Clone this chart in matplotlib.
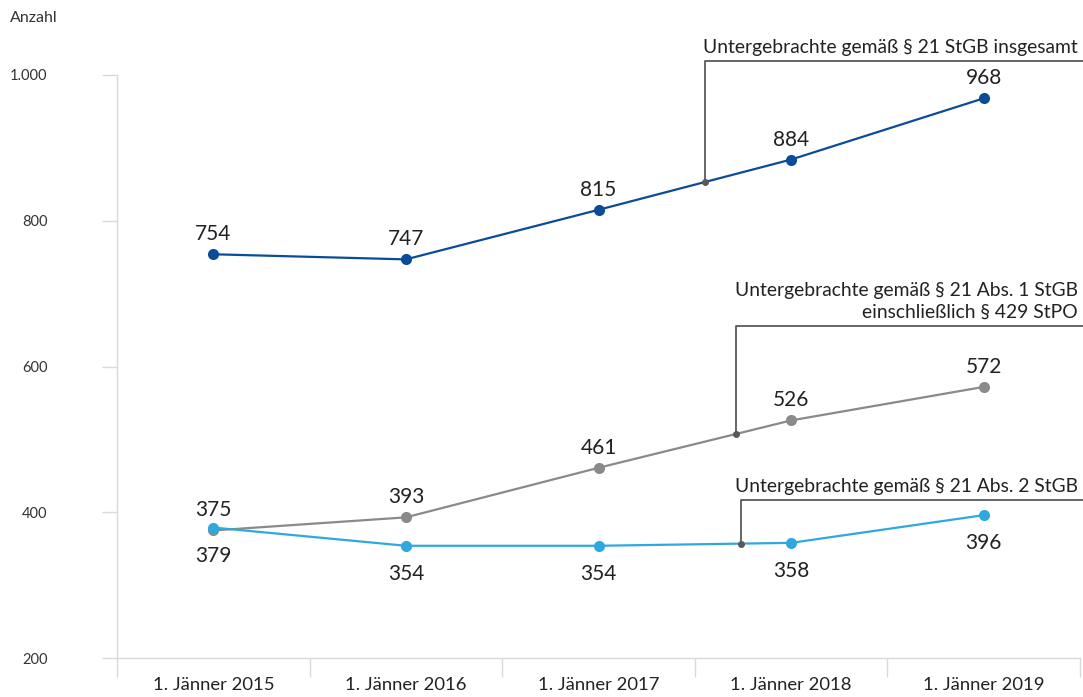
import matplotlib
matplotlib.use("Agg")
import matplotlib.pyplot as plt
import numpy as np

plt.rcParams['font.family'] = ['Lato', 'DejaVu Sans']

# Stichtage und Anzahl Untergebrachte
stichtage = ['1. Jänner 2015', '1. Jänner 2016', '1. Jänner 2017',
             '1. Jänner 2018', '1. Jänner 2019']
insgesamt = [754, 747, 815, 884, 968]
abs1 = [375, 393, 461, 526, 572]
abs2 = [379, 354, 354, 358, 396]

y_ticks = [200, 400, 600, 800, 1000]
y_ticklabels = ['200', '400', '600', '800', '1.000']

c_total = '#0B4C98'
c_abs1 = '#8A8A8A'
c_abs2 = '#2FA8E0'
c_leader = '#595959'
c_axis = '#D9D9D9'

fig = plt.figure(figsize=(10.83, 6.97), dpi=100)
ax = fig.add_axes([117 / 1083, 39 / 697, 963 / 1083, 583 / 697])

x = np.arange(len(stichtage))

# Werte über bzw. unter den Punkten (Versatz in Pixel)
series = [
    (insgesamt, c_total, 20),
    (abs1, c_abs1, 20),
    (abs2, c_abs2, -28),
]
for values, color, dy in series:
    ax.plot(x, values, color=color, lw=1.6, marker='o', ms=8,
            markeredgewidth=0, zorder=3)
    for xi, v in zip(x, values):
        ax.annotate(str(v), xy=(xi, v), xytext=(0, dy),
                    textcoords='offset pixels',
                    ha='center', va='center', fontsize=15, color='#222222')

# Legendenbeschriftungen mit Führungslinien
legends = [
    (insgesamt, 2.553, 1019, 'Untergebrachte gemäß § 21 StGB insgesamt'),
    (abs1, 2.714, 656, 'Untergebrachte gemäß § 21 Abs. 1 StGB\neinschließlich § 429 StPO'),
    (abs2, 2.740, 417, 'Untergebrachte gemäß § 21 Abs. 2 StGB'),
]
for values, lx, ly, text in legends:
    y_on_line = np.interp(lx, x, values)
    ax.plot([lx, lx, 4.52], [y_on_line, ly, ly], color=c_leader, lw=1.3,
            clip_on=False, zorder=2)
    ax.plot(lx, y_on_line, 'o', color=c_leader, ms=4, zorder=4)
    ax.annotate(text, xy=(4.49, ly), xytext=(0, 5), textcoords='offset pixels',
                ha='right', va='bottom', fontsize=13.9, color='#222222',
                linespacing=1.3, annotation_clip=False)

ax.set_xlim(-0.5, 4.5)
ax.set_ylim(200, 1000)

ax.set_yticks(y_ticks)
ax.set_yticklabels(y_ticklabels, fontsize=10.5, color='#333333')
ax.set_xticks(x)
ax.set_xticklabels(stichtage, fontsize=13.3, color='#222222')
ax.set_xticks(np.arange(-0.5, 5, 1), minor=True)

ax.tick_params(axis='y', length=11, color=c_axis, width=1, pad=39)
ax.tick_params(axis='x', which='major', length=0, pad=14)
ax.tick_params(axis='x', which='minor', length=14, color=c_axis, width=1)

for s in ['top', 'right']:
    ax.spines[s].set_visible(False)
for s in ['left', 'bottom']:
    ax.spines[s].set_color(c_axis)
    ax.spines[s].set_linewidth(1)

fig.text(10 / 1083, 1 - 18 / 697, 'Anzahl', fontsize=11.5, color='#333333',
         ha='left', va='center')

fig.savefig('out.png', dpi=100)
